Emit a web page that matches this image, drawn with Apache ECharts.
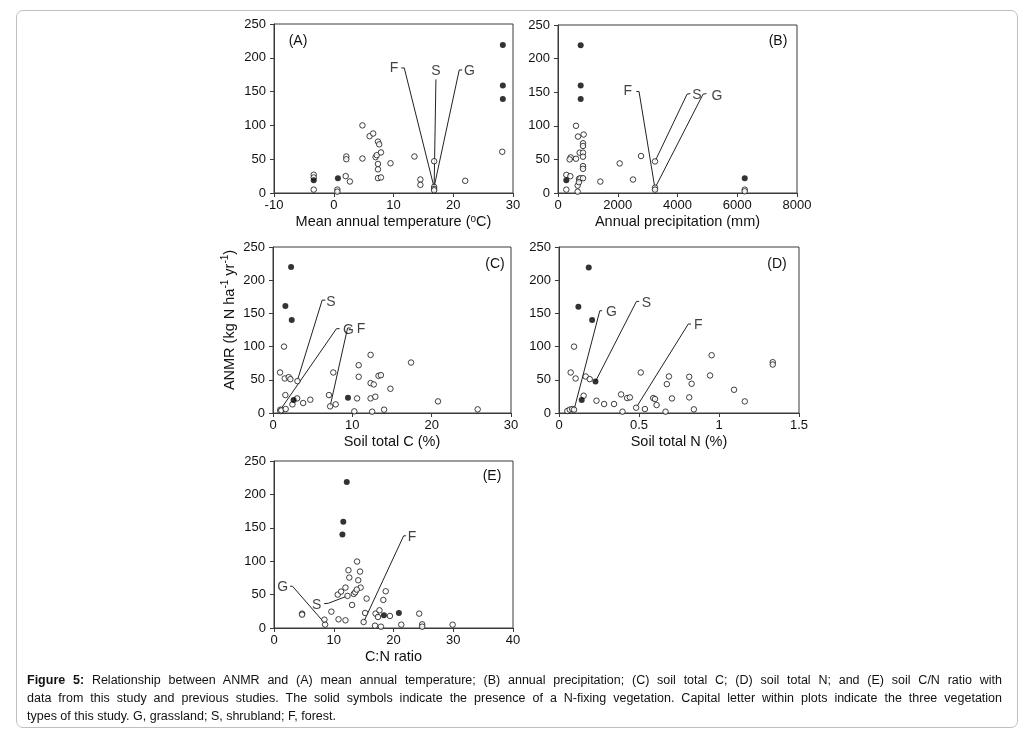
<!DOCTYPE html>
<html>
<head>
<meta charset="utf-8">
<script src="https://cdn.jsdelivr.net/npm/echarts@6/dist/echarts.min.js"></script>
<style>
  html, body { margin: 0; padding: 0; background: #fff; }
  #chart { position: absolute; left: 0; top: 0; width: 1028px; height: 736px; }
  #frame { position: absolute; left: 16px; top: 10px; width: 1000px; height: 716px;
           border: 1.5px solid #bfbfbf; border-radius: 7px; pointer-events: none; }
  #caption { position: absolute; left: 27px; top: 671px; width: 975px;
             font-family: "Liberation Sans", Arial, sans-serif; font-size: 12.5px; color: #111; line-height: 18px; }
  #caption div.j { text-align: justify; text-align-last: justify; }
</style>
</head>
<body>
<div id="chart"></div>
<div id="frame"></div>
<div id="caption">
  <div class="j"><b>Figure 5:</b> Relationship between ANMR and (A) mean annual temperature; (B) annual precipitation; (C) soil total C; (D) soil total N; and (E) soil C/N ratio with</div>
  <div class="j">data from this study and previous studies. The solid symbols indicate the presence of a N-fixing vegetation. Capital letter within plots indicate the three vegetation</div>
  <div>types of this study. G, grassland; S, shrubland; F, forest.</div>
</div>
<script>
// ---------------- DATA ----------------
// Panel A: mean annual temperature (°C) vs ANMR
const aOpen = [[-3.35,27],[-3.35,23],[-3.35,5],[0.6,5],[0.6,2],[2.1,54],[2.1,50],[2.0,25],[2.7,17],[4.8,100],[4.8,51],[6.0,84],[6.6,88],[7.0,53],[7.2,56],[7.4,76],[7.6,72],[7.4,43],[7.4,35],[7.4,22],[7.9,23],[7.9,60],[9.5,44],[13.5,54],[14.5,20],[14.5,12],[16.8,47],[16.8,9],[16.8,6],[16.8,4],[22,18],[28.2,61]];
const aFilled = [[-3.35,19],[0.7,22],[28.3,219],[28.3,159],[28.3,139]];
const aLineF = [[11.3,185],[11.8,185],[16.8,8]];
const aLineS = [[17.1,168],[16.8,9]];
const aLineG = [[16.8,9],[21.0,182],[21.5,182]];
const aLabels = [[10.1,185,'F'],[17.1,181,'S'],[22.7,181,'G']];

// Panel B: annual precipitation (mm) vs ANMR
const bOpen = [[603,100],[670,84],[859,87],[837,74],[837,70],[725,60],[837,60],[837,54],[837,40],[837,36],[424,53],[390,50],[603,51],[279,27],[413,25],[279,5],[703,21],[747,22],[658,11],[700,16],[658,2],[837,22],[1417,17],[2065,44],[2511,20],[2779,55],[3247,47],[3247,8],[3247,5],[6250,5],[6250,2.5]];
const bFilled = [[759,220],[759,160],[759,140],[279,19],[6250,22]];
const bLineF = [[2623,151],[2712,151],[3247,6.5]];
const bLineS = [[3247,47],[4319,147],[4430,148]];
const bLineG = [[3247,7.5],[4855,147],[4966,148]];
const bLabels = [[2332,151.6,'F'],[4654,145.6,'S'],[5323,144.6,'G']];

// Panel C: soil total C (%) vs ANMR
const cOpen = [[1.39,100],[0.89,61],[1.48,52],[1.98,54],[2.19,51],[1.56,27],[0.93,5],[0.93,3],[1.05,4],[1.6,6],[3.04,22],[3.08,48],[2.45,13],[3.8,15],[4.7,20],[7.05,27],[7.2,10],[7.9,13],[7.6,61],[10.25,2.5],[10.6,22],[10.8,72],[10.8,54.5],[12.3,87.5],[12.3,45],[12.7,43],[12.3,22],[12.9,24.5],[12.5,2],[13.3,56],[13.6,57],[14,5],[14.8,36.5],[17.4,76],[20.8,17.5],[25.8,5.5]];
const cFilled = [[2.28,220],[1.56,161],[2.36,140],[2.6,19.5],[9.45,23]];
const cLineS = [[3.1,50],[6.2,170],[6.6,170]];
const cLineG = [[0.93,5],[8.0,127],[8.4,127]];
const cLineF = [[7.2,10],[9.4,128],[9.8,128]];
const cLabels = [[7.3,167,'S'],[9.5,125,'G'],[11.1,126,'F']];

// Panel D: soil total N (%) vs ANMR
const dOpen = [[0.094,100],[0.073,61],[0.104,52],[0.167,55],[0.192,51],[0.154,26],[0.052,3],[0.067,5],[0.083,6],[0.094,5],[0.234,18.5],[0.282,13.5],[0.344,13.5],[0.388,28],[0.397,2],[0.426,22.5],[0.443,23.5],[0.482,8],[0.511,61],[0.537,6],[0.589,22.5],[0.6,21],[0.61,12],[0.666,2],[0.674,43.5],[0.687,55],[0.706,22],[0.814,54.5],[0.829,44],[0.814,23.5],[0.843,5.5],[0.944,56.5],[0.954,87],[1.094,35],[1.161,17.5],[1.336,76.5],[1.336,73]];
const dFilled = [[0.186,219],[0.121,160],[0.207,140],[0.228,47.5],[0.142,19.5]];
const dLineG = [[0.094,5],[0.255,154],[0.269,154]];
const dLineS = [[0.228,47.5],[0.484,168],[0.501,168]];
const dLineF = [[0.482,8],[0.808,134],[0.825,134]];
const dLabels = [[0.328,152.5,'G'],[0.547,166,'S'],[0.87,132.5,'F']];

// Panel E: C:N ratio vs ANMR
const eOpen = [[4.7,21.5],[4.7,20],[8.44,12.5],[8.55,5],[9.6,24.5],[10.67,50],[11.23,54.5],[11.96,60.5],[10.8,13],[11.96,11.5],[12.3,48],[12.46,86.5],[12.6,75.5],[13.07,34.5],[13.35,51],[13.6,53.5],[13.9,99.5],[14.1,71.5],[14.4,84.5],[14.5,60.5],[13.85,57.5],[15.0,9],[15.25,22.5],[15.5,44],[16.9,3.5],[17,21.5],[17.4,16.5],[17.65,26.5],[17.9,2],[18.3,42],[18.7,55],[19.4,18],[21.3,5],[24.3,21.5],[24.8,5.5],[24.8,2],[29.9,5]];
const eFilled = [[12.18,218.5],[11.6,159],[11.45,140],[18.4,19],[20.9,22.5]];
const eLineG = [[2.7,62.5],[3.1,62.5],[8.55,6.5]];
const eLineS = [[8.4,36.5],[9.1,37],[12.3,48]];
const eLineF = [[15,9],[21.7,138],[22.1,138]];
const eLabels = [[1.45,60.5,'G'],[7.15,34,'S'],[23.1,136.5,'F']];

// Axes
const xRanges = [[-10,30,10],[0,8000,2000],[0,30,10],[0,1.5,0.5],[0,40,10]];
const yRange = [0,250,50];
const xTitles = ['Mean annual temperature ({s|o}C)','Annual precipitation (mm)','Soil total C (%)','Soil total N (%)','C:N ratio'];
const panelTags = ['(A)','(B)','(C)','(D)','(E)'];

// ---------------- CHART ----------------
const FONT = '"Liberation Sans", Arial, sans-serif';
const AXC = '#3a3a3a';
const grids = [
  {left:274, top:24, width:239, height:169},
  {left:558, top:25, width:239, height:168},
  {left:273, top:247, width:238, height:166},
  {left:559, top:247, width:240, height:166},
  {left:274, top:461, width:239, height:167}
];
const tagPos = [[298,41],[778,41],[495,264],[777,264],[492,476]];

const panels = [
  {open:aOpen, filled:aFilled, lines:[aLineF,aLineS,aLineG], labels:aLabels},
  {open:bOpen, filled:bFilled, lines:[bLineF,bLineS,bLineG], labels:bLabels},
  {open:cOpen, filled:cFilled, lines:[cLineS,cLineG,cLineF], labels:cLabels},
  {open:dOpen, filled:dFilled, lines:[dLineG,dLineS,dLineF], labels:dLabels},
  {open:eOpen, filled:eFilled, lines:[eLineG,eLineS,eLineF], labels:eLabels}
];

const xAxes = [], yAxes = [], series = [];
grids.forEach((g, i) => {
  g.show = true; g.borderColor = AXC; g.borderWidth = 1; g.backgroundColor = 'transparent';
  xAxes.push({
    type:'value', gridIndex:i, min:xRanges[i][0], max:xRanges[i][1], interval:xRanges[i][2],
    name: xTitles[i], nameLocation:'middle', nameGap:21,
    nameTextStyle:{fontFamily:FONT, fontSize:14.5, color:'#111', verticalAlign:'top',
      rich:{s:{fontFamily:FONT, fontSize:10, color:'#111', verticalAlign:'top', lineHeight:12}}},
    axisLine:{show:true, onZero:false, lineStyle:{color:AXC, width:1}},
    axisTick:{show:true, inside:false, length:4, lineStyle:{color:AXC}},
    axisLabel:{fontFamily:FONT, fontSize:13, color:'#111', margin:6, formatter: v => String(v)},
    splitLine:{show:false}
  });
  yAxes.push({
    type:'value', gridIndex:i, min:yRange[0], max:yRange[1], interval:yRange[2],
    axisLine:{show:true, onZero:false, lineStyle:{color:AXC, width:1}},
    axisTick:{show:true, inside:false, length:4, lineStyle:{color:AXC}},
    axisLabel:{fontFamily:FONT, fontSize:13, color:'#111', margin:8},
    splitLine:{show:false}
  });
  const p = panels[i];
  p.lines.forEach(L => series.push({
    type:'line', xAxisIndex:i, yAxisIndex:i, data:L, symbol:'none', silent:true,
    lineStyle:{color:'#222', width:1}, z:2, animation:false
  }));
  series.push({
    type:'scatter', xAxisIndex:i, yAxisIndex:i, data:p.open, symbol:'circle', symbolSize:5.5,
    itemStyle:{color:'#fff', borderColor:'#111', borderWidth:1}, z:3, animation:false
  });
  series.push({
    type:'scatter', xAxisIndex:i, yAxisIndex:i, data:p.filled, symbol:'circle', symbolSize:6,
    itemStyle:{color:'#000'}, z:4, animation:false
  });
  series.push({
    type:'scatter', xAxisIndex:i, yAxisIndex:i, data:p.labels, symbolSize:0.01,
    itemStyle:{color:'transparent'}, z:5, animation:false, silent:true,
    label:{show:true, position:'inside', formatter:d => d.value[2],
      fontFamily:FONT, fontSize:14, color:'#111'}
  });
});

const graphics = tagPos.map((t, i) => ({
  type:'text', x:t[0], y:t[1],
  style:{text:panelTags[i], fontFamily:FONT, fontSize:14, fill:'#111', align:'center', verticalAlign:'middle'}
}));
graphics.push({
  type:'text', x:230, y:320, rotation:Math.PI/2,
  style:{
    text:'{a|ANMR (kg N ha}{s|-1}{a| yr}{s|-1}{a|)}',
    align:'center', verticalAlign:'middle',
    rich:{
      a:{fontFamily:FONT, fontSize:14.5, fill:'#111', lineHeight:20},
      s:{fontFamily:FONT, fontSize:10, fill:'#111', lineHeight:12, verticalAlign:'top'}
    }
  }
});

const chart = echarts.init(document.getElementById('chart'), null, {renderer:'canvas'});
chart.setOption({
  animation:false,
  backgroundColor:'#fff',
  grid:grids, xAxis:xAxes, yAxis:yAxes, series:series, graphic:graphics
});
</script>
</body>
</html>
